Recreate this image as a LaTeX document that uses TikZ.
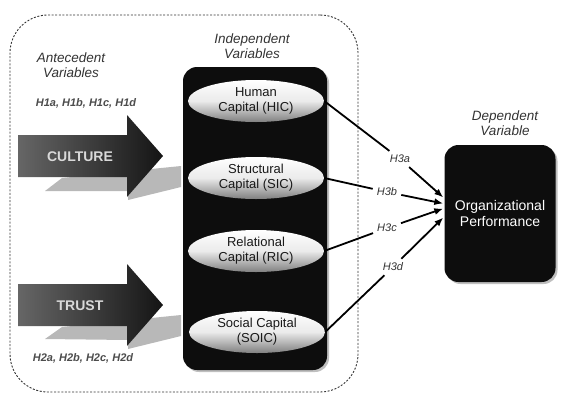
\documentclass[tikz,border=0pt]{standalone}
\usepackage{fontspec}
\setmainfont{Liberation Sans}
\usetikzlibrary{arrows.meta,calc,shapes.geometric,shadows}
\begin{document}
\begin{tikzpicture}[x=1pt,y=-1pt,
  lbl/.style={font=\fontsize{13.5}{15.5}\selectfont\itshape, align=center, inner sep=0pt, text=black!80},
  hyplist/.style={font=\fontsize{11}{12}\selectfont\itshape\bfseries, inner sep=0pt, text=black!70},
  hyp/.style={font=\fontsize{11}{12}\selectfont\itshape, inner sep=4pt, text=black!80},
  capnode/.style={ellipse, minimum width=136pt, minimum height=42pt, inner sep=0pt,
    top color=white, bottom color=black!50, middle color=white!92!black,
    font=\fontsize{13}{15}\selectfont, align=center, text=black!90},
  blackbox/.style={rectangle, rounded corners=14pt, fill=black!95,
    drop shadow={shadow xshift=2pt, shadow yshift=-2pt, fill=black!25, opacity=1}},
  bigarrow/.style={left color=black!60, right color=black!92, draw=none},
  ashadow/.style={fill=black!28, draw=none},
  armtext/.style={font=\fontsize{14}{16}\selectfont\bfseries, text=white!85!black, inner sep=0pt},
  conn/.style={line width=1.8pt, draw=black},
  connarrow/.style={conn, -{Latex[length=9pt,width=7pt]}}
]
\useasboundingbox (0,0) rectangle (562,394);

% dashed frame
\node[draw=black!80, line width=0.9pt, dash pattern=on 2pt off 1.6pt, rounded corners=38pt,
  minimum width=348pt, minimum height=377pt, inner sep=0pt] (frame) at (184,203.5) {};

% arrow shadows
\fill[ashadow] (45,191) -- (62,178) -- (181,166) -- (181,187) -- (128,200) -- (128,191) -- cycle;
\fill[ashadow] (45,339) -- (62,327) -- (181,315) -- (181,336) -- (128,349) -- (128,340) -- cycle;

% big arrows
\path[bigarrow] (18,135) -- (127,135) -- (127,115) -- (163,156) -- (127,197) -- (127,177) -- (18,177) -- cycle;
\path[bigarrow] (18,284) -- (127,284) -- (127,264) -- (163,305) -- (127,346) -- (127,326) -- (18,326) -- cycle;
\node[armtext] (culture) at (80,157) {CULTURE};
\node[armtext] (trust) at (80,306) {TRUST};

% labels
\node[lbl] (ante) at (71,65) {Antecedent\\Variables};
\node[hyplist] (h1) at (86,103) {H1a, H1b, H1c, H1d};
\node[hyplist] (h2) at (83,358) {H2a, H2b, H2c, H2d};
\node[lbl] (indlbl) at (252,46) {Independent\\Variables};
\node[lbl] (deplbl) at (505,123) {Dependent\\Variable};

% independent variables box
\node[blackbox, minimum width=144pt, minimum height=303pt] (indep) at (255,218.5) {};
\node[capnode] (hic) at (256,101) {Human\\Capital (HIC)};
\node[capnode] (sic) at (256,178) {Structural\\Capital (SIC)};
\node[capnode] (ric) at (256,251) {Relational\\Capital (RIC)};
\node[capnode] (soic) at (257,332) {Social Capital\\(SOIC)};

% dependent variable box
\node[blackbox, minimum width=111pt, minimum height=137pt, text=white,
  font=\fontsize{14}{16}\selectfont, align=center] (org) at (500,213.5) {Organizational\\Performance};

% hypothesis labels
\node[hyp] (h3a) at (400,159) {H3a};
\node[hyp] (h3b) at (387,192) {H3b};
\node[hyp] (h3c) at (387,228) {H3c};
\node[hyp] (h3d) at (393,267) {H3d};

\coordinate (ea) at ($(org.west)+(-1,-16)$);
\coordinate (eb) at ($(org.west)+(-1,-10)$);
\coordinate (ec) at ($(org.west)+(-1,-5)$);
\coordinate (ed) at ($(org.west)+(-1,4)$);

\draw[conn] (hic.east) -- (h3a);
\draw[conn] (sic.east) -- (h3b);
\draw[conn] (ric.east) -- (h3c);
\draw[conn] (soic.east) -- (h3d);
\draw[connarrow] (h3a) -- (ea);
\draw[connarrow] (h3b) -- (eb);
\draw[connarrow] (h3c) -- (ec);
\draw[connarrow] (h3d) -- (ed);
\end{tikzpicture}
\end{document}
